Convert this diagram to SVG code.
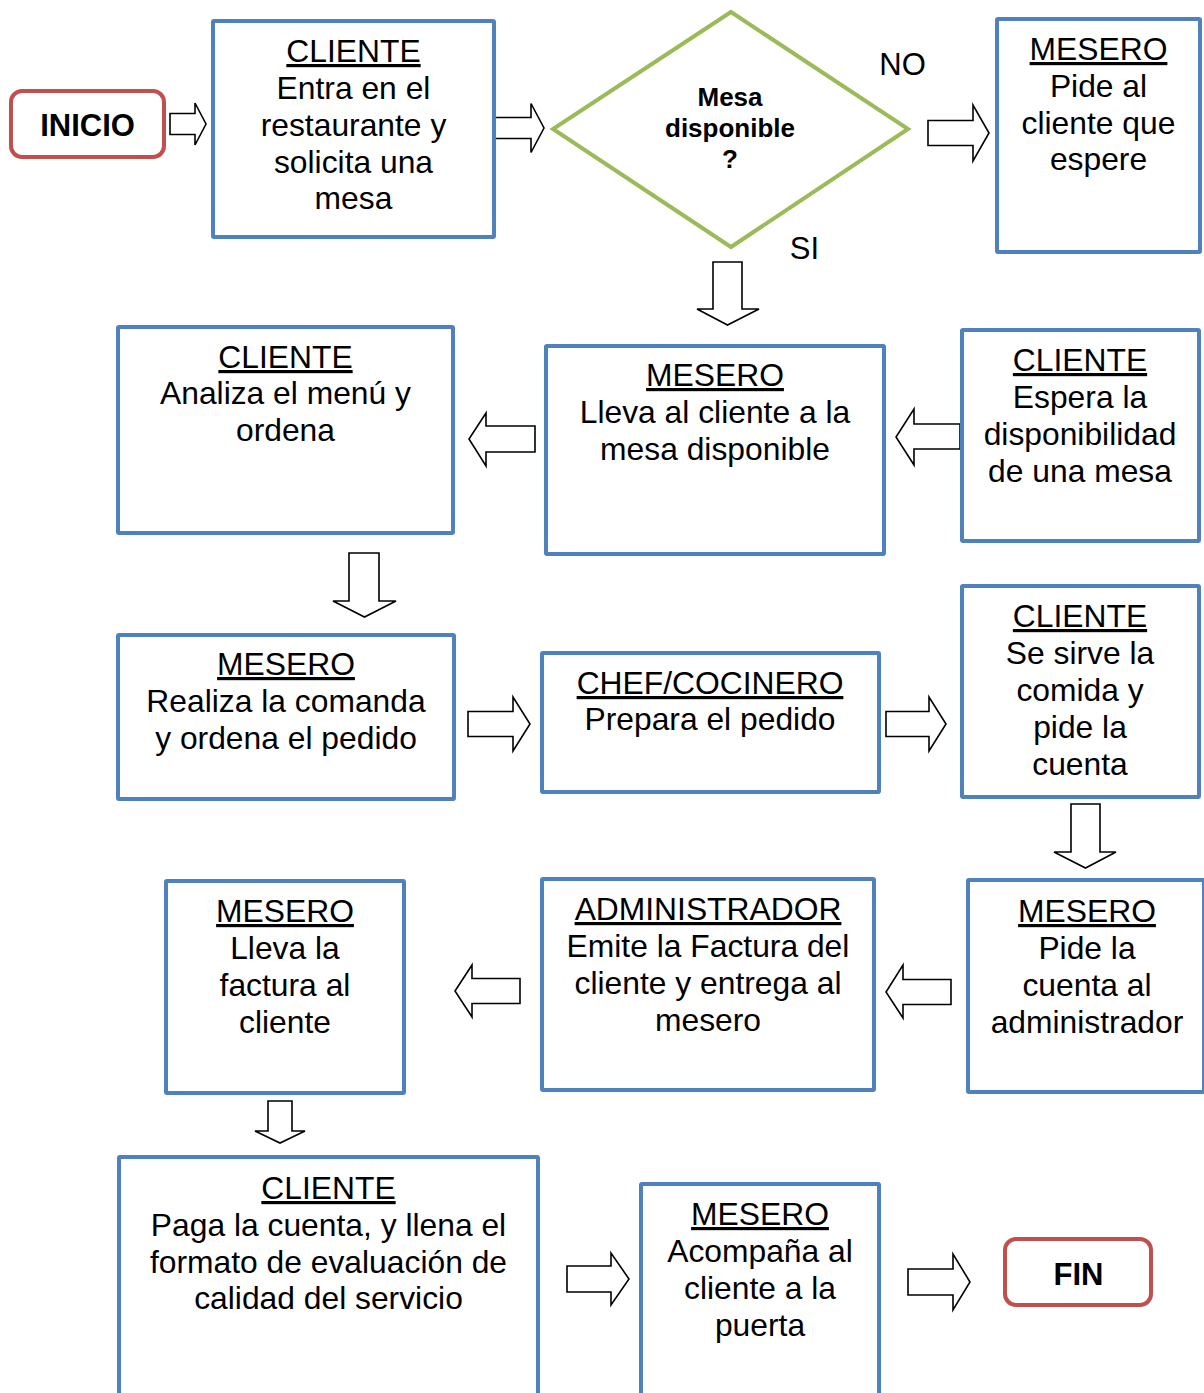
<svg xmlns="http://www.w3.org/2000/svg" width="1204" height="1393" viewBox="0 0 1204 1393">
  <style>
    .box { fill: #ffffff; stroke: #4F81BD; stroke-width: 4; }
    .term { fill: #ffffff; stroke: #C0504D; stroke-width: 4; }
    .dec { fill: #ffffff; stroke: #9BBB59; stroke-width: 4; stroke-linejoin: miter; }
    .arr { fill: #ffffff; stroke: #000000; stroke-width: 1.6; stroke-linejoin: miter; }
    text { font-family: "Liberation Sans", Arial, sans-serif; fill: #000000; }
    .t { font-size: 31.8px; text-anchor: middle; }
    .h { text-decoration: underline; }
    .b { font-size: 31px; font-weight: bold; text-anchor: middle; }
    .q { font-size: 26px; font-weight: bold; text-anchor: middle; }
    .lbl { font-size: 31px; text-anchor: middle; }
  </style>
  <rect width="1204" height="1393" fill="#ffffff"/>

  <!-- block arrows between steps -->
  <g id="connectors">
    <path class="arr" d="M170,113.5 L195,113.5 L195,103 L206,124 L195,145 L195,134.5 L170,134.5 Z"/>
    <path class="arr" d="M494,117.5 L531,117.5 L531,103.5 L544,128 L531,152.5 L531,138.5 L494,138.5 Z"/>
    <path class="arr" d="M928,120.5 L973,120.5 L973,105 L989,133 L973,161 L973,145.5 L928,145.5 Z"/>
    <path class="arr" d="M713,262 L742,262 L742,309 L759,309 L727.5,325 L697,309 L713,309 Z"/>
    <path class="arr" d="M535,426 L486,426 L486,413 L469,439 L486,466 L486,452 L535,452 Z"/>
    <path class="arr" d="M960,424 L914,424 L914,409 L896,437 L914,465 L914,449 L960,449 Z"/>
    <path class="arr" d="M349,553 L379,553 L379,601 L396,601 L364.5,617 L333,601 L349,601 Z"/>
    <path class="arr" d="M468,711.5 L513,711.5 L513,697 L530,724 L513,751 L513,736.5 L468,736.5 Z"/>
    <path class="arr" d="M886,711.5 L929,711.5 L929,697 L946,724 L929,751 L929,736.5 L886,736.5 Z"/>
    <path class="arr" d="M1071,804 L1100,804 L1100,852 L1116,852 L1085.5,868 L1054,852 L1071,852 Z"/>
    <path class="arr" d="M951,979.5 L903,979.5 L903,965 L886,992 L903,1018 L903,1004.5 L951,1004.5 Z"/>
    <path class="arr" d="M520,978.5 L472,978.5 L472,965 L455,991 L472,1017 L472,1003.5 L520,1003.5 Z"/>
    <path class="arr" d="M268,1101 L292,1101 L292,1131 L305,1131 L280,1143 L255,1131 L268,1131 Z"/>
    <path class="arr" d="M567,1266 L611,1266 L611,1253 L629,1279 L611,1305 L611,1292 L567,1292 Z"/>
    <path class="arr" d="M908,1269 L953,1269 L953,1254 L970,1282 L953,1310 L953,1295 L908,1295 Z"/>
  </g>

  <g id="inicio">
    <rect class="term" x="11" y="91" width="153" height="66" rx="11"/>
    <text class="b" x="87.5" y="135.5">INICIO</text>
  </g>

  <g id="cliente-entra">
    <rect class="box" x="213" y="21" width="281" height="216" rx="1"/>
    <text class="t" x="353.5"><tspan class="h" x="353.5" y="62">CLIENTE</tspan><tspan x="353.5" y="99">Entra en el</tspan><tspan x="353.5" y="136">restaurante y</tspan><tspan x="353.5" y="173">solicita una</tspan><tspan x="353.5" y="209">mesa</tspan></text>
  </g>

  <g id="decision">
    <polygon class="dec" points="731,12 908,129 731,247 553,129"/>
    <text class="q" x="730"><tspan x="730" y="106">Mesa</tspan><tspan x="730" y="137">disponible</tspan><tspan x="730" y="168">?</tspan></text>
    <text class="lbl" x="902.5" y="75">NO</text>
    <text class="lbl" x="804.5" y="259">SI</text>
  </g>

  <g id="mesero-espere">
    <rect class="box" x="997" y="19" width="203" height="233" rx="1"/>
    <text class="t" x="1098.5"><tspan class="h" x="1098.5" y="60">MESERO</tspan><tspan x="1098.5" y="97">Pide al</tspan><tspan x="1098.5" y="134">cliente que</tspan><tspan x="1098.5" y="170">espere</tspan></text>
  </g>

  <g id="cliente-analiza">
    <rect class="box" x="118" y="327" width="335" height="206" rx="1"/>
    <text class="t" x="285.5"><tspan class="h" x="285.5" y="368">CLIENTE</tspan><tspan x="285.5" y="404">Analiza el menú y</tspan><tspan x="285.5" y="441">ordena</tspan></text>
  </g>

  <g id="mesero-lleva">
    <rect class="box" x="546" y="346" width="338" height="208" rx="1"/>
    <text class="t" x="715"><tspan class="h" x="715" y="386">MESERO</tspan><tspan x="715" y="423">Lleva al cliente a la</tspan><tspan x="715" y="460">mesa disponible</tspan></text>
  </g>

  <g id="cliente-espera">
    <rect class="box" x="962" y="330" width="237" height="211" rx="1"/>
    <text class="t" x="1080"><tspan class="h" x="1080" y="371">CLIENTE</tspan><tspan x="1080" y="408">Espera la</tspan><tspan x="1080" y="445">disponibilidad</tspan><tspan x="1080" y="482">de una mesa</tspan></text>
  </g>

  <g id="mesero-comanda">
    <rect class="box" x="118" y="635" width="336" height="164" rx="1"/>
    <text class="t" x="286"><tspan class="h" x="286" y="675">MESERO</tspan><tspan x="286" y="712">Realiza la comanda</tspan><tspan x="286" y="749">y ordena el pedido</tspan></text>
  </g>

  <g id="chef">
    <rect class="box" x="542" y="653" width="337" height="139" rx="1"/>
    <text class="t" x="710"><tspan class="h" x="710" y="694">CHEF/COCINERO</tspan><tspan x="710" y="730">Prepara el pedido</tspan></text>
  </g>

  <g id="cliente-come">
    <rect class="box" x="962" y="586" width="237" height="211" rx="1"/>
    <text class="t" x="1080"><tspan class="h" x="1080" y="627">CLIENTE</tspan><tspan x="1080" y="664">Se sirve la</tspan><tspan x="1080" y="701">comida y</tspan><tspan x="1080" y="738">pide la</tspan><tspan x="1080" y="775">cuenta</tspan></text>
  </g>

  <g id="mesero-factura">
    <rect class="box" x="166" y="881" width="238" height="212" rx="1"/>
    <text class="t" x="285"><tspan class="h" x="285" y="922">MESERO</tspan><tspan x="285" y="959">Lleva la</tspan><tspan x="285" y="996">factura al</tspan><tspan x="285" y="1033">cliente</tspan></text>
  </g>

  <g id="administrador">
    <rect class="box" x="542" y="879" width="332" height="211" rx="1"/>
    <text class="t" x="708"><tspan class="h" x="708" y="920">ADMINISTRADOR</tspan><tspan x="708" y="957">Emite la Factura del</tspan><tspan x="708" y="994">cliente y entrega al</tspan><tspan x="708" y="1031">mesero</tspan></text>
  </g>

  <g id="mesero-cuenta">
    <rect class="box" x="968" y="880" width="236" height="212" rx="1"/>
    <text class="t" x="1087"><tspan class="h" x="1087" y="922">MESERO</tspan><tspan x="1087" y="959">Pide la</tspan><tspan x="1087" y="996">cuenta al</tspan><tspan x="1087" y="1033">administrador</tspan></text>
  </g>

  <g id="cliente-paga">
    <rect class="box" x="119" y="1157" width="419" height="260" rx="1"/>
    <text class="t" x="328.5"><tspan class="h" x="328.5" y="1199">CLIENTE</tspan><tspan x="328.5" y="1236">Paga la cuenta, y llena el</tspan><tspan x="328.5" y="1273">formato de evaluación de</tspan><tspan x="328.5" y="1309">calidad del servicio</tspan></text>
  </g>

  <g id="mesero-puerta">
    <rect class="box" x="641" y="1184" width="238" height="240" rx="1"/>
    <text class="t" x="760"><tspan class="h" x="760" y="1225">MESERO</tspan><tspan x="760" y="1262">Acompaña al</tspan><tspan x="760" y="1299">cliente a la</tspan><tspan x="760" y="1336">puerta</tspan></text>
  </g>

  <g id="fin">
    <rect class="term" x="1005" y="1239" width="146" height="66" rx="11"/>
    <text class="b" x="1078.5" y="1285">FIN</text>
  </g>
</svg>
